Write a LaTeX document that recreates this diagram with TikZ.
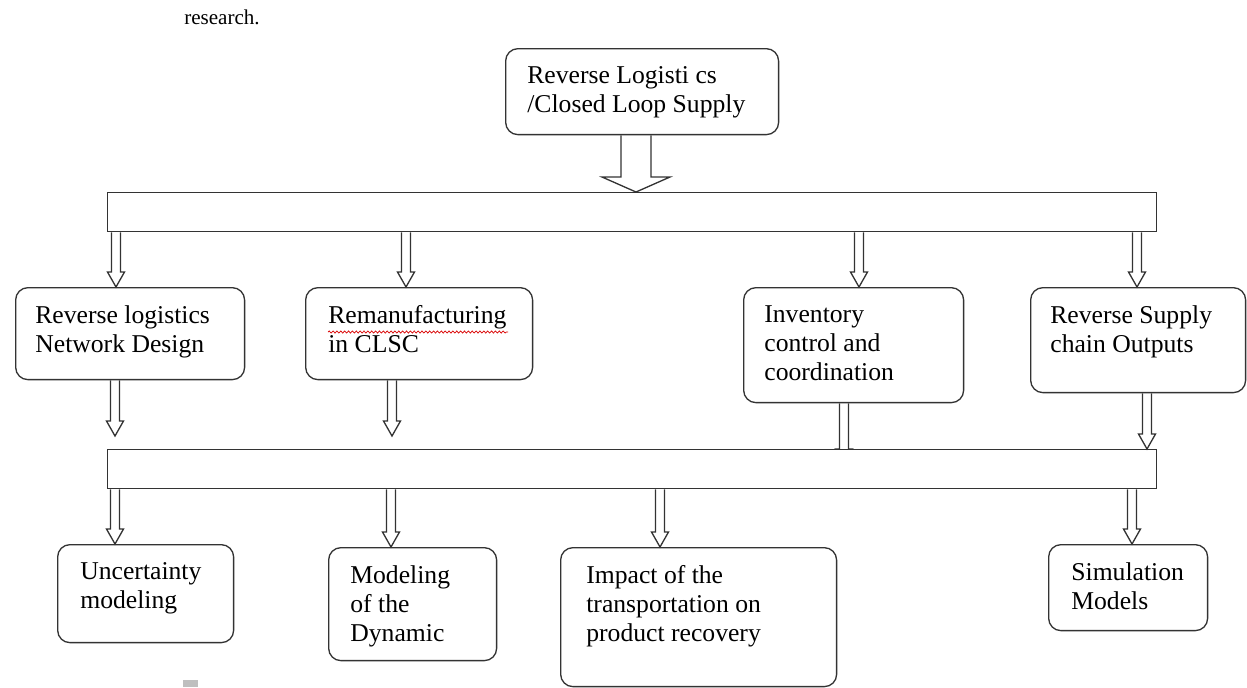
\documentclass[tikz,border=0pt]{standalone}
\usepackage{fontspec}
\setmainfont{Liberation Serif}
\usetikzlibrary{calc,backgrounds,decorations.pathmorphing}

% hollow arrow: shaft half width, head half width, from, to
\newcommand\harrow[4]{%
  \draw[arr] ($(#3)+(-#1,0)$) -- ($(#4)+(-#1,-15)$) -- ($(#4)+(-#2,-15)$)
    -- (#4) -- ($(#4)+(#2,-15)$) -- ($(#4)+(#1,-15)$) -- ($(#3)+(#1,0)$);}

\begin{document}
\begin{tikzpicture}[x=0.02cm,y=-0.02cm,
  box/.style={draw=black!80,line width=0.75pt,rounded corners=7pt,anchor=north west,inner sep=0pt},
  bus/.style={draw=black!80,fill=white,line width=0.75pt,anchor=north west,inner sep=0pt,
    minimum width=20.98cm,minimum height=0.78cm},
  txt/.style={anchor=north west,align=left,inner sep=0pt,font=\fontsize{14.6}{16.6}\selectfont},
  arr/.style={draw=black!80,line width=0.75pt,line join=miter}]
\useasboundingbox (0,0) rectangle (1247,687);

\node[font=\fontsize{12}{14}\selectfont] (cap) at (222,17) {research.};

% top box and first bus
\node[box,minimum width=5.46cm,minimum height=1.72cm] (top) at (505,48) {};
\node[txt] (ttop) at ([shift={(22,18)}]top.north west) {Reverse Logisti cs\\/Closed Loop Supply};
\node[bus] (bus1) at (107,192) {};
\harrow{15}{34}{636,0 |- top.south}{636,0 |- bus1.north}

% first row
\node[box,minimum width=4.58cm,minimum height=1.84cm] (net) at (15,287) {};
\node[box,minimum width=4.54cm,minimum height=1.84cm] (reman) at (305,287) {};
\node[box,minimum width=4.40cm,minimum height=2.30cm] (inv) at (743,287) {};
\node[box,minimum width=4.30cm,minimum height=2.10cm] (out) at (1030,287) {};
\node[txt] (tnet) at ([shift={(20,18)}]net.north west) {Reverse logistics\\Network Design};
\node[txt] (treman) at ([shift={(23,18)}]reman.north west) {Remanufacturing\\in CLSC};
\node[txt] (tinv) at ([shift={(21,18)}]inv.north west) {Inventory\\control and\\coordination};
\node[txt] (tout) at ([shift={(20,18)}]out.north west) {Reverse Supply\\chain Outputs};
\draw[red!85!black,line width=0.4pt,decorate,decoration={snake,amplitude=0.6pt,segment length=2.2pt}]
  ([shift={(23,45)}]reman.north west) -- ++(180,0);

\harrow{4.5}{8.5}{116,0 |- bus1.south}{116,0 |- net.north}
\harrow{4.5}{8.5}{406,0 |- bus1.south}{406,0 |- reman.north}
\harrow{4.5}{8.5}{859,0 |- bus1.south}{859,0 |- inv.north}
\harrow{4.5}{8.5}{1137,0 |- bus1.south}{1137,0 |- out.north}

% second bus
\coordinate (ea) at (115,436);
\coordinate (eb) at (392,436);
\coordinate (ec) at (844,464);
\harrow{4.5}{8.5}{115,0 |- net.south}{ea}
\harrow{4.5}{8.5}{392,0 |- reman.south}{eb}
\begin{scope}[on background layer]
\harrow{4.5}{8.5}{844,0 |- inv.south}{ec}
\end{scope}
\node[bus] (bus2) at (107,449) {};
\harrow{4.5}{8.5}{1147,0 |- out.south}{1147,0 |- bus2.north}

% second row
\node[box,minimum width=3.52cm,minimum height=1.96cm] (unc) at (57,544) {};
\node[box,minimum width=3.36cm,minimum height=2.26cm] (dyn) at (328,547) {};
\node[box,minimum width=5.52cm,minimum height=2.78cm] (trans) at (560,547) {};
\node[box,minimum width=3.18cm,minimum height=1.72cm] (sim) at (1048,544) {};
\node[txt] (tunc) at ([shift={(23,18)}]unc.north west) {Uncertainty\\modeling};
\node[txt] (tdyn) at ([shift={(22,18)}]dyn.north west) {Modeling\\of the\\Dynamic};
\node[txt] (ttrans) at ([shift={(26,18)}]trans.north west) {Impact of the\\transportation on\\product recovery};
\node[txt] (tsim) at ([shift={(23,18)}]sim.north west) {Simulation\\Models};

\harrow{4.5}{8.5}{115,0 |- bus2.south}{115,0 |- unc.north}
\harrow{4.5}{8.5}{391,0 |- bus2.south}{391,0 |- dyn.north}
\harrow{4.5}{8.5}{660,0 |- bus2.south}{660,0 |- trans.north}
\harrow{4.5}{8.5}{1132,0 |- bus2.south}{1132,0 |- sim.north}

\fill[black!25] (183,680) rectangle (198,687);
\end{tikzpicture}
\end{document}
